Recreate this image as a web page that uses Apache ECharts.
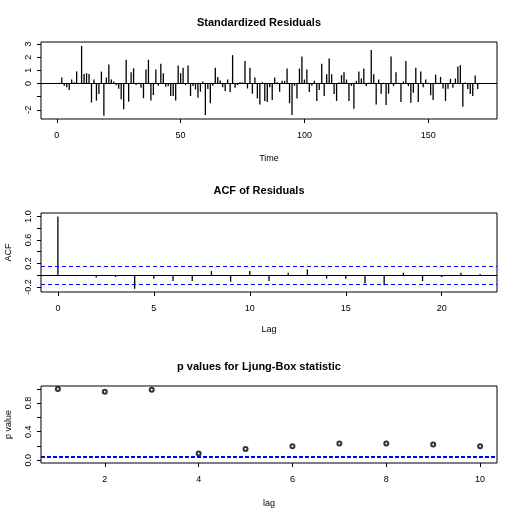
<!DOCTYPE html>
<html>
<head>
<meta charset="utf-8">
<script src="https://cdn.jsdelivr.net/npm/echarts@6/dist/echarts.min.js"></script>
<style>
  html, body { margin: 0; padding: 0; background: #fff; }
  #chart { width: 518px; height: 517px; }
</style>
</head>
<body>
<div id="chart"></div>
<script>
// standardized residuals, t = 1..170
const residuals = [
  0.05, 0.45, -0.18, -0.28, -0.5, 0.3, 0.1, 0.92, -0.05, 2.85,
  0.72, 0.78, 0.72, -1.45, 0.3, -1.3, -0.8, 0.9, -2.45, 0.45,
  1.44, 0.3, 0.15, -0.13, -0.4, -1.2, -1.95, 1.8, -1.38, 0.85,
  1.15, -0.12, 0.05, -0.33, -1.12, 1.07, 1.8, -1.3, -0.88, 1.07,
  -0.18, 1.5, 0.78, -0.25, -0.2, -0.95, -0.95, -1.3, 1.36, 0.78,
  1.2, -0.12, 1.36, -0.95, -0.2, -0.45, -1.08, -0.63, 0.15, -2.4,
  -0.43, -1.5, -0.18, 1.2, 0.5, 0.23, -0.28, -0.58, 0.3, -0.65,
  2.15, -0.33, -0.12, 0.1, 0.08, 1.7, -0.38, 1.2, -0.78, 0.45,
  -1.14, -1.6, 0.1, -1.33, -1.4, -0.28, -1.26, 0.45, 0.1, -0.63,
  0.2, 0.2, 1.13, -1.5, -2.4, -0.18, -1.14, 1.13, 2.05, 0.3,
  1.06, -0.65, -0.18, 0.2, -1.33, -0.5, 1.5, -0.96, 0.7, 1.9,
  0.7, -0.8, -1.33, 0.1, 0.63, 0.85, 0.3, -1.33, -0.18, -1.92,
  0.2, 0.91, 0.38, 1.13, -0.2, 0.05, 2.55, 0.7, -1.6, 0.3,
  -0.78, 0.05, -1.64, -0.78, 2.05, -0.2, 0.85, 0.05, -1.4, 0.15,
  1.7, -0.2, -1.46, -0.7, 1.2, -1.4, 0.91, -0.28, 0.3, 0.05,
  -0.9, -1.26, 0.68, 0.05, 0.5, -0.38, -1.33, -0.4, 0.35, -0.33,
  0.38, 1.29, 1.39, -1.77, 0.08, -0.43, -0.8, -0.96, 0.6, -0.43
];
// ACF of residuals, lag 0..22
const acfValues = [
  1.0, -0.01, -0.04, -0.03, -0.23, -0.06, -0.1, -0.1, 0.07, -0.11,
  0.07, -0.1, 0.04, 0.1, -0.06, -0.06, -0.14, -0.17, 0.04, -0.1,
  -0.03, 0.04, 0.02
];
const acfBound = 0.153;
// Ljung-Box p values, lag 1..10
const pValues = [0.998, 0.958, 0.986, 0.093, 0.158, 0.195, 0.233, 0.233, 0.219, 0.195];
const pLimit = 0.05;

// ticks and labels
const timeTicks = [0, 50, 100, 150];
const residTicks = [-2, -1, 0, 1, 2, 3];
const residLabels = [-2, 0, 1, 2, 3];
const acfLagTicks = [0, 5, 10, 15, 20];
const acfTicks = [-0.2, 0, 0.2, 0.4, 0.6, 0.8, 1.0];
const acfLabels = [-0.2, 0.2, 0.6, 1.0];
const pLagTicks = [2, 4, 6, 8, 10];
const pTicks = [0, 0.2, 0.4, 0.6, 0.8, 1.0];
const pLabels = [0, 0.4, 0.8];

const FONT = '"Liberation Sans", Arial, sans-serif';
const chart = echarts.init(document.getElementById('chart'), null, { renderer: 'canvas' });

function xAx(grid, min, max, ticks, name, gap) {
  return {
    type: 'value', gridIndex: grid, min: min, max: max, position: 'bottom',
    name: name, nameLocation: 'middle', nameGap: gap,
    nameTextStyle: { color: '#000', fontSize: 9, fontFamily: FONT },
    axisLine: { show: false, onZero: false },
    axisTick: { show: true, customValues: ticks, length: 4, lineStyle: { color: '#000' } },
    axisLabel: { customValues: ticks, color: '#000', fontSize: 9, fontFamily: FONT, margin: 12 },
    splitLine: { show: false }
  };
}
function yAx(grid, min, max, ticks, labels, fmt, name) {
  return {
    type: 'value', gridIndex: grid, min: min, max: max, position: 'left',
    name: name, nameLocation: 'middle', nameGap: 28,
    nameTextStyle: { color: '#000', fontSize: 9, fontFamily: FONT },
    axisLine: { show: false, onZero: false },
    axisTick: { show: true, customValues: ticks, length: 4, lineStyle: { color: '#000' } },
    axisLabel: { customValues: labels, rotate: 90, color: '#000', fontSize: 9,
                 fontFamily: FONT, margin: 8, formatter: fmt },
    splitLine: { show: false }
  };
}
function hline(v, color, type, width) {
  return { yAxis: v, lineStyle: { color: color, type: type, width: width } };
}
function box(top, height) {
  return { left: 41, width: 456, top: top, height: height, show: true,
           borderColor: '#000', borderWidth: 1, containLabel: false, outerBoundsMode: 'none' };
}

const option = {
  animation: false,
  backgroundColor: '#fff',
  title: [
    { text: 'Standardized Residuals', left: 'center', top: 12 },
    { text: 'ACF of Residuals', left: 'center', top: 180 },
    { text: 'p values for Ljung-Box statistic', left: 'center', top: 356 }
  ].map(t => Object.assign(t, { textStyle: { fontSize: 11, fontWeight: 'bold', color: '#000', fontFamily: FONT } })),
  grid: [box(42, 77), box(213, 79), box(386, 77)],
  xAxis: [
    xAx(0, -6.4, 177.8, timeTicks, 'Time', 35),
    xAx(1, -0.88, 22.88, acfLagTicks, 'Lag', 33),
    xAx(2, 0.64, 10.36, pLagTicks, 'lag', 36)
  ],
  yAxis: [
    yAx(0, -2.7, 3.15, residTicks, residLabels, v => String(v), ''),
    yAx(1, -0.286, 1.058, acfTicks, acfLabels, v => v.toFixed(1), 'ACF'),
    yAx(2, -0.04, 1.04, pTicks, pLabels, v => v.toFixed(1), 'p value')
  ],
  series: [
    {
      type: 'bar', xAxisIndex: 0, yAxisIndex: 0, barWidth: 1.3,
      itemStyle: { color: '#000' },
      data: residuals.map((v, i) => [i + 1, v]),
      markLine: { silent: true, symbol: 'none', label: { show: false },
                  data: [hline(0, '#000', 'solid', 1)] }
    },
    {
      type: 'bar', xAxisIndex: 1, yAxisIndex: 1, barWidth: 1.3,
      itemStyle: { color: '#000' },
      data: acfValues.map((v, i) => [i, v]),
      markLine: { silent: true, symbol: 'none', label: { show: false },
                  data: [
                    hline(0, '#000', 'solid', 1),
                    hline(acfBound, '#0000ff', [4, 3], 1),
                    hline(-acfBound, '#0000ff', [4, 3], 1)
                  ] }
    },
    {
      type: 'scatter', xAxisIndex: 2, yAxisIndex: 2,
      symbol: 'emptyCircle', symbolSize: 4,
      itemStyle: { color: '#000', borderWidth: 1 },
      data: pValues.map((v, i) => [i + 1, v]),
      markLine: { silent: true, symbol: 'none', label: { show: false },
                  data: [hline(pLimit, '#0000ff', [4, 2], 2)] }
    }
  ]
};
chart.setOption(option);
</script>
</body>
</html>
